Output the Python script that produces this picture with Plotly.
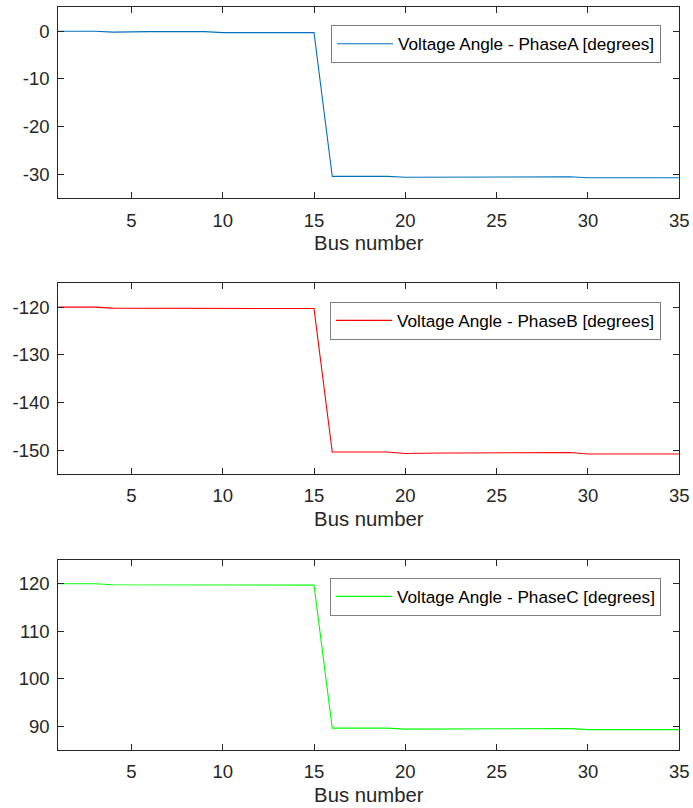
import plotly.graph_objects as go

bus = list(range(1, 36))
phase_a = [0.0, 0.0, 0.0, -0.2, -0.1, -0.1, -0.1, -0.1, -0.1, -0.3, -0.3, -0.3, -0.3, -0.3, -0.3,
           -30.4, -30.4, -30.4, -30.4, -30.6, -30.6, -30.6, -30.6, -30.6, -30.6,
           -30.5, -30.5, -30.5, -30.5, -30.7, -30.7, -30.7, -30.7, -30.7, -30.7]
phase_b = [-120.0, -120.0, -120.0, -120.2, -120.2, -120.2, -120.2, -120.2, -120.2, -120.3, -120.3, -120.3, -120.3, -120.3, -120.3,
           -150.4, -150.4, -150.4, -150.4, -150.7, -150.6, -150.6, -150.6, -150.6, -150.6,
           -150.5, -150.5, -150.5, -150.5, -150.8, -150.8, -150.8, -150.8, -150.8, -150.8]
phase_c = [120.0, 120.0, 120.0, 119.8, 119.8, 119.8, 119.8, 119.8, 119.8, 119.7, 119.7, 119.7, 119.7, 119.7, 119.7,
           89.6, 89.6, 89.6, 89.6, 89.4, 89.4, 89.4, 89.4, 89.4, 89.4,
           89.5, 89.5, 89.5, 89.5, 89.3, 89.3, 89.3, 89.3, 89.3, 89.3]

names = ["Voltage Angle - PhaseA [degrees]", "Voltage Angle - PhaseB [degrees]", "Voltage Angle - PhaseC [degrees]"]
colors = ["#0072BD", "#FF0000", "#00FF00"]
x_ticks = [5, 10, 15, 20, 25, 30, 35]
y_ticks = [[0, -10, -20, -30], [-120, -130, -140, -150], [120, 110, 100, 90]]
y_ranges = [[-35, 5], [-155, -115], [85, 125]]

W, H = 693, 808
FONT = "Liberation Sans, Arial, sans-serif"
TXT = "#262626"

# pixel boxes (top, bottom)
boxes = [(7.3, 198.3), (283.3, 474.0), (560.0, 750.0)]
x0, x1 = 58.3, 679.3
legend_tops = [25.0, 301.7, 577.7]

fig = go.Figure()
series = [phase_a, phase_b, phase_c]
for i in range(3):
    sfx = "" if i == 0 else str(i + 1)
    fig.add_trace(go.Scatter(
        x=bus, y=series[i], mode="lines", name=names[i],
        line=dict(color=colors[i], width=1.1),
        xaxis="x" + sfx, yaxis="y" + sfx,
        legend="legend" + sfx,
    ))
    top, bot = boxes[i]
    axcommon = dict(showline=True, linecolor=TXT, linewidth=1, mirror="ticks",
                    ticks="inside", ticklen=6, tickcolor=TXT, tickwidth=1,
                    showgrid=False, zeroline=False, automargin=False,
                    tickfont=dict(family=FONT, size=18.5, color=TXT))
    fig.update_layout(**{
        "xaxis" + sfx: dict(domain=[x0 / W, x1 / W], range=[1, 35], tickvals=x_ticks,
                            ticktext=[str(v) for v in x_ticks],
                            anchor="y" + sfx,
                            title=dict(text="Bus number", font=dict(family=FONT, size=20.3, color=TXT), standoff=6),
                            ticklabelstandoff=5,
                            **axcommon),
        "yaxis" + sfx: dict(domain=[1 - bot / H, 1 - top / H], range=y_ranges[i], tickvals=y_ticks[i],
                            ticktext=[str(v) for v in y_ticks[i]],
                            anchor="x" + sfx, ticklabelstandoff=4,
                            **axcommon),
        "legend" + sfx: dict(x=661 / W, xanchor="right", y=1 - legend_tops[i] / H, yanchor="top",
                             bgcolor="white", bordercolor="#7f7f7f", borderwidth=1,
                             font=dict(family=FONT, size=17.2, color="black"),
                             itemwidth=56),
    })

fig.update_layout(width=W, height=H, margin=dict(l=0, r=0, t=0, b=0, autoexpand=False), autosize=False,
                  paper_bgcolor="white", plot_bgcolor="white", showlegend=True)

post = ("document.body.style.margin='0';document.body.style.overflow='hidden';")
fig.write_html("out.html", config={"displayModeBar": False}, post_script=post)
